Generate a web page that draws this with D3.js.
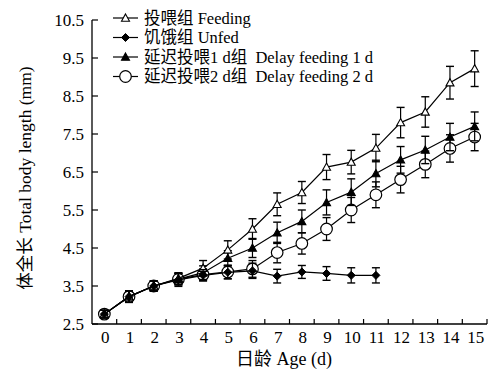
<!DOCTYPE html>
<html>
<head>
<meta charset="utf-8">
<script src="https://cdn.jsdelivr.net/npm/d3@7"></script>
<style>
  body { margin: 0; background: #fff; }
  text { font-family: "Liberation Serif", "Noto Sans CJK SC", serif; fill: #000; white-space: pre; }
</style>
</head>
<body>
<div id="chart"></div>
<script>
const days = d3.range(0, 16);
const yTicks = [2.5, 3.5, 4.5, 5.5, 6.5, 7.5, 8.5, 9.5, 10.5];

const feeding    = [2.76, 3.22, 3.5, 3.7, 3.97, 4.45, 5.0, 5.65, 5.96, 6.63, 6.76, 7.13, 7.8, 8.08, 8.85, 9.22];
const feedingErr = [0.1, 0.15, 0.13, 0.15, 0.2, 0.24, 0.27, 0.3, 0.29, 0.33, 0.31, 0.36, 0.4, 0.4, 0.43, 0.47];

const unfed    = [2.76, 3.22, 3.5, 3.66, 3.78, 3.86, 3.9, 3.76, 3.87, 3.83, 3.78, 3.78];
const unfedErr = [0.1, 0.15, 0.13, 0.17, 0.15, 0.17, 0.2, 0.18, 0.17, 0.18, 0.2, 0.2];

const delay1    = [2.76, 3.22, 3.5, 3.68, 3.85, 4.23, 4.5, 4.9, 5.2, 5.7, 5.97, 6.46, 6.82, 7.08, 7.42, 7.7];
const delay1Err = [0.1, 0.15, 0.13, 0.15, 0.18, 0.2, 0.25, 0.28, 0.3, 0.33, 0.35, 0.35, 0.35, 0.36, 0.36, 0.38];

const delay2    = [2.76, 3.22, 3.5, 3.68, 3.8, 3.87, 3.95, 4.38, 4.62, 5.0, 5.5, 5.9, 6.3, 6.7, 7.12, 7.42];
const delay2Err = [0.1, 0.15, 0.13, 0.15, 0.15, 0.18, 0.22, 0.27, 0.28, 0.3, 0.33, 0.34, 0.35, 0.35, 0.36, 0.36];

const series = [
  { name: "投喂组 Feeding", values: feeding, err: feedingErr, shape: "triangle", filled: false },
  { name: "饥饿组 Unfed", values: unfed, err: unfedErr, shape: "diamond", filled: true },
  { name: "延迟投喂1 d组  Delay feeding 1 d", values: delay1, err: delay1Err, shape: "triangle", filled: true },
  { name: "延迟投喂2 d组  Delay feeding 2 d", values: delay2, err: delay2Err, shape: "circle", filled: false }
];

const width = 498, height = 372;
const svg = d3.select("#chart").append("svg")
  .attr("width", width)
  .attr("height", height);

const x = d3.scaleLinear().domain([-0.5, 15.5]).range([92, 487]);
const y = d3.scaleLinear().domain([2.5, 10.5]).range([324, 20]);

// axes
svg.append("line").attr("x1", 92).attr("x2", 92).attr("y1", y(10.5)).attr("y2", y(2.5))
  .attr("stroke", "#000").attr("stroke-width", 1.3);
svg.append("line").attr("x1", 92).attr("x2", x(15.5)).attr("y1", y(2.5)).attr("y2", y(2.5))
  .attr("stroke", "#000").attr("stroke-width", 1.3);

svg.selectAll(".ytick").data(yTicks).enter().append("line")
  .attr("x1", 92).attr("x2", 98)
  .attr("y1", d => y(d)).attr("y2", d => y(d))
  .attr("stroke", "#000").attr("stroke-width", 1.2);
svg.selectAll(".ylab").data(yTicks).enter().append("text")
  .attr("x", 84).attr("y", d => y(d) + 6)
  .attr("text-anchor", "end")
  .style("font-size", "17px")
  .text(d => d.toFixed(1));

const xTickPos = d3.range(0.5, 16, 1);
svg.selectAll(".xtick").data(xTickPos).enter().append("line")
  .attr("x1", d => x(d)).attr("x2", d => x(d))
  .attr("y1", y(2.5)).attr("y2", y(2.5) - 5)
  .attr("stroke", "#000").attr("stroke-width", 1.2);
svg.selectAll(".xlab").data(days).enter().append("text")
  .attr("x", d => x(d) + 1).attr("y", 343)
  .attr("text-anchor", "middle")
  .style("font-size", "17px")
  .text(d => d);

svg.append("text")
  .attr("x", 284).attr("y", 365)
  .attr("text-anchor", "middle")
  .style("font-size", "18px")
  .text("日龄 Age (d)");

svg.append("text")
  .attr("transform", "translate(31,178) rotate(-90)")
  .attr("text-anchor", "middle")
  .style("font-size", "17.5px")
  .text("体全长 Total body length (mm)");

function drawMarker(g, s, cx, cy) {
  const fill = s.filled ? "#000" : "#fff";
  if (s.shape === "circle") {
    g.append("circle").attr("cx", cx).attr("cy", cy).attr("r", 5.8)
      .attr("fill", fill).attr("stroke", "#000").attr("stroke-width", 1.2);
  } else if (s.shape === "triangle") {
    const r = 4;
    g.append("path")
      .attr("d", `M${cx},${cy - r}L${cx + r},${cy + r * 0.8}L${cx - r},${cy + r * 0.8}Z`)
      .attr("fill", fill).attr("stroke", "#000").attr("stroke-width", 1.1);
  } else {
    const r = 4;
    g.append("path")
      .attr("d", `M${cx},${cy - r}L${cx + r},${cy}L${cx},${cy + r}L${cx - r},${cy}Z`)
      .attr("fill", fill).attr("stroke", "#000").attr("stroke-width", 1);
  }
}

const line = d3.line().x((d, i) => x(i)).y(d => y(d));
const drawOrder = [3, 2, 0, 1];

drawOrder.forEach(k => {
  const s = series[k];
  const g = svg.append("g");
  g.append("path").datum(s.values).attr("d", line)
    .attr("fill", "none").attr("stroke", "#000").attr("stroke-width", 1.2);
  s.values.forEach((v, i) => {
    const e = s.err[i];
    const cx = x(i);
    g.append("line").attr("x1", cx).attr("x2", cx).attr("y1", y(v + e)).attr("y2", y(v - e))
      .attr("stroke", "#000").attr("stroke-width", 1.2);
    [v + e, v - e].forEach(t => {
      g.append("line").attr("x1", cx - 4).attr("x2", cx + 4).attr("y1", y(t)).attr("y2", y(t))
        .attr("stroke", "#000").attr("stroke-width", 1.4);
    });
  });
  s.values.forEach((v, i) => drawMarker(g, s, x(i), y(v)));
});

// legend
const legend = svg.append("g");
series.forEach((s, i) => {
  const ly = 18 + i * 19.5;
  legend.append("line").attr("x1", 113).attr("x2", 138).attr("y1", ly).attr("y2", ly)
    .attr("stroke", "#000").attr("stroke-width", 1.2);
  drawMarker(legend, s, 125.5, ly);
  legend.append("text").attr("x", 144).attr("y", ly + 5.5)
    .style("font-size", "16.5px")
    .text(s.name);
});
</script>
</body>
</html>
